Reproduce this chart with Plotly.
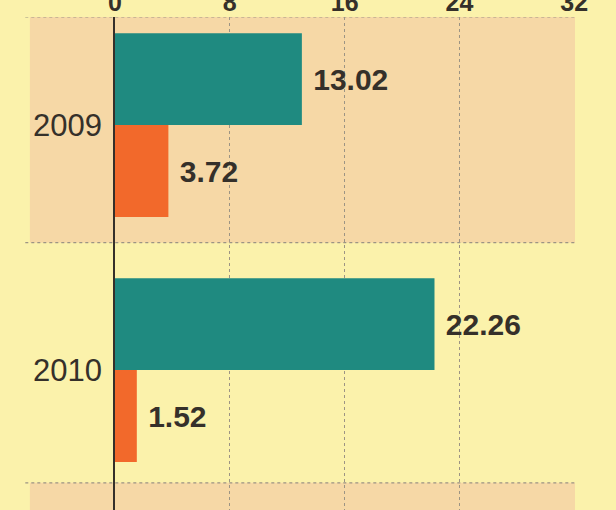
import plotly.graph_objects as go

years = ["2009", "2010"]
series_a = [13.02, 22.26]   # teal
series_b = [3.72, 1.52]     # orange
x_ticks = [0, 8, 16, 24, 32]

TEAL = "#1f8a80"
ORANGE = "#f2692b"
YELLOW = "#fbf2ab"
PEACH = "#f6d8a6"
DARK = "#35302a"
GRID = "#9c9484"

fig = go.Figure()
fig.add_trace(go.Bar(
    y=years, x=series_a, orientation="h", marker=dict(color=TEAL, line=dict(width=0)),
    texttemplate=" %{x:.2f}", textposition="outside", cliponaxis=False,
    textfont=dict(family="Liberation Sans", size=30, color=DARK, weight="bold"),
))
fig.add_trace(go.Bar(
    y=years, x=series_b, orientation="h", marker=dict(color=ORANGE, line=dict(width=0)),
    texttemplate=" %{x:.2f}", textposition="outside", cliponaxis=False,
    textfont=dict(family="Liberation Sans", size=30, color=DARK, weight="bold"),
))

# alternating background bands and dotted separators (decoration)
band_edges = [-0.441, 0.48, 1.46, 1.571]
fig.add_shape(type="rect", xref="paper", yref="y", x0=-0.185, x1=1, y0=band_edges[0], y1=band_edges[1],
              fillcolor=PEACH, line=dict(width=0), layer="below")
fig.add_shape(type="rect", xref="paper", yref="y", x0=-0.185, x1=1, y0=band_edges[2], y1=band_edges[3],
              fillcolor=PEACH, line=dict(width=0), layer="below")
for e in band_edges[:3]:
    fig.add_shape(type="line", xref="paper", yref="y", x0=-0.195, x1=1, y0=e, y1=e,
                  line=dict(color=GRID, width=1.2, dash="dot"), layer="below")

fig.update_layout(
    width=616, height=510,
    margin=dict(l=115, r=41, t=17, b=0, pad=0),
    paper_bgcolor=YELLOW, plot_bgcolor="rgba(0,0,0,0)",
    barmode="group", bargap=0.25, bargroupgap=0,
    showlegend=False,
    xaxis=dict(
        side="top", range=[0, 32.05], tickvals=x_ticks, ticktext=[str(t) for t in x_ticks],
        showgrid=True, gridcolor=GRID, griddash="dot", gridwidth=1.2,
        zeroline=False, showline=False, ticks="", automargin=False,
        tickfont=dict(family="Liberation Sans", size=25, color=DARK, weight="bold"),
        ticklabelstandoff=0,
    ),
    yaxis=dict(
        type="category", range=[1.571, -0.441], automargin=False,
        showgrid=False, zeroline=False, showline=True, linecolor=DARK, linewidth=1.6,
        ticks="", ticklabelstandoff=5,
        tickfont=dict(family="Liberation Sans", size=31, color=DARK),
    ),
)

fig.write_html("out.html", config={"displayModeBar": False},
               post_script="document.body.style.margin='0';document.body.style.background='%s';" % YELLOW)
